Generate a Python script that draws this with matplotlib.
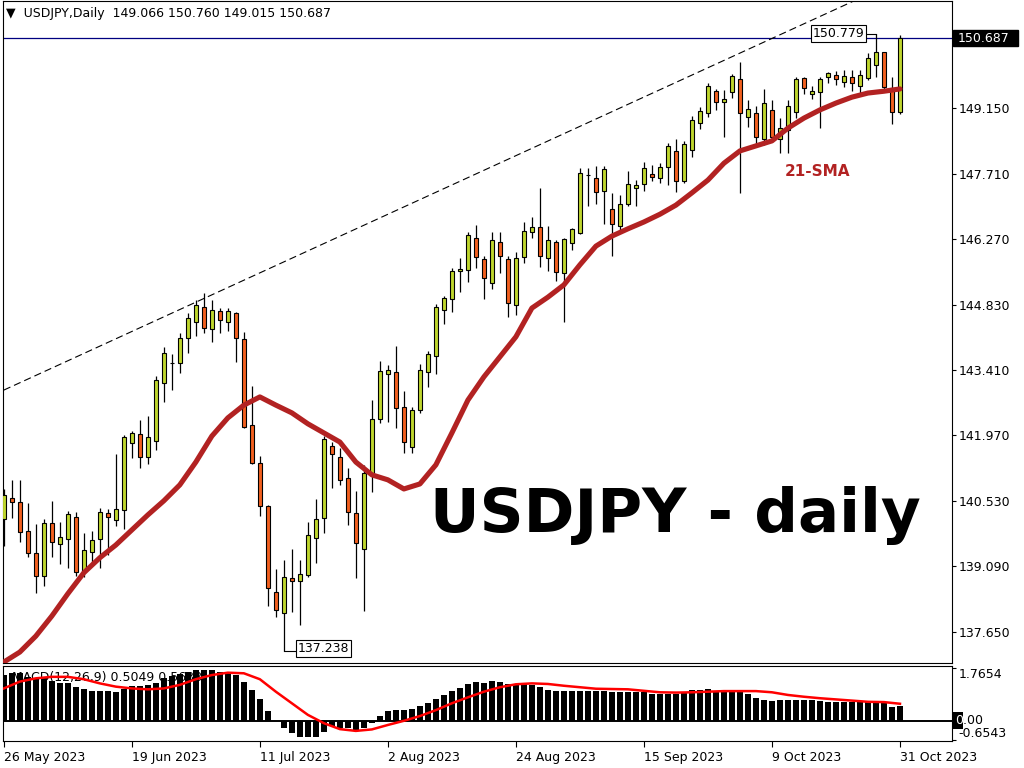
import matplotlib
matplotlib.use("Agg")
import matplotlib.pyplot as plt
import matplotlib.transforms as mtransforms
from matplotlib.patches import Rectangle
import numpy as np

# time axis labels and the bars they sit on
date_labels = ["26 May 2023", "19 Jun 2023", "11 Jul 2023", "2 Aug 2023",
               "24 Aug 2023", "15 Sep 2023", "9 Oct 2023", "31 Oct 2023"]
date_label_bars = [0, 16, 32, 48, 64, 80, 96, 112]

# daily candles
opens = [140.13, 140.59, 140.51, 139.87, 139.39, 138.88, 140.04, 139.58, 139.69, 140.17,
         138.97, 139.41, 139.69, 140.26, 140.11, 140.33, 141.80, 142.00, 141.49, 141.84,
         143.12, 143.55, 143.55, 144.10, 144.45, 144.78, 144.30, 144.70, 144.45, 144.65,
         144.08, 142.19, 141.36, 140.42, 138.53, 138.07, 138.84, 138.77, 138.90, 139.71,
         140.15, 141.73, 141.49, 141.03, 140.26, 139.47, 141.14, 142.33, 143.31, 143.36,
         142.59, 141.71, 142.52, 143.36, 143.71, 144.72, 144.96, 145.57, 145.59, 146.30,
         145.84, 145.31, 146.21, 145.84, 144.83, 145.88, 146.43, 146.54, 145.86, 146.21,
         145.53, 146.19, 146.41, 147.68, 147.61, 147.33, 146.93, 146.56, 147.04, 147.39,
         147.48, 147.70, 147.61, 147.86, 148.21, 147.55, 148.23, 148.82, 149.04, 149.52,
         149.28, 149.50, 149.79, 148.95, 149.04, 148.47, 149.11, 148.47, 148.67, 149.06,
         149.81, 149.46, 149.50, 149.83, 149.87, 149.72, 149.83, 149.63, 149.81, 150.09,
         150.38, 149.59, 149.066]
highs = [140.79, 140.99, 140.99, 140.48, 140.02, 140.13, 140.53, 140.07, 140.31, 140.28,
         139.82, 139.87, 140.37, 140.35, 141.56, 141.97, 142.06, 142.30, 142.39, 143.27,
         143.91, 143.75, 144.21, 144.65, 144.94, 145.09, 144.94, 144.76, 144.76, 144.67,
         144.23, 143.05, 141.51, 140.44, 139.03, 139.23, 139.47, 139.23, 140.07, 140.57,
         141.95, 141.82, 141.69, 141.25, 140.75, 141.32, 142.74, 143.60, 143.51, 143.93,
         142.94, 142.59, 143.53, 143.82, 144.85, 145.02, 145.64, 145.86, 146.43, 146.58,
         145.90, 146.43, 146.43, 145.90, 145.99, 146.65, 146.76, 147.40, 146.56, 146.25,
         146.30, 146.52, 147.83, 147.83, 147.88, 147.88, 147.28, 147.24, 147.77, 147.57,
         147.97, 147.90, 147.94, 148.38, 148.47, 148.43, 148.97, 149.17, 149.70, 149.57,
         149.55, 149.90, 150.16, 149.33, 149.19, 149.57, 149.33, 148.93, 149.33, 149.83,
         149.83, 149.63, 149.83, 149.94, 149.96, 149.98, 149.98, 149.98, 150.36, 150.779,
         150.38, 149.83, 150.760]
lows = [139.54, 140.15, 139.63, 139.30, 138.51, 138.66, 139.30, 139.14, 139.06, 138.88,
        138.86, 139.17, 139.06, 139.34, 139.98, 139.91, 141.47, 141.25, 141.34, 141.65,
        142.70, 142.96, 143.33, 143.77, 144.15, 144.21, 144.02, 144.21, 144.26, 143.58,
        142.13, 141.34, 140.20, 138.22, 137.98, 137.238, 138.09, 137.80, 138.86, 139.17,
        139.82, 140.81, 140.88, 140.00, 138.84, 138.11, 140.72, 142.24, 142.26, 142.13,
        141.58, 141.58, 142.46, 143.03, 143.31, 144.41, 144.67, 145.11, 145.33, 145.64,
        144.96, 145.18, 145.53, 144.56, 144.61, 145.75, 146.30, 145.66, 145.57, 145.35,
        144.45, 146.03, 146.39, 147.00, 147.04, 146.60, 145.90, 146.43, 147.00, 147.00,
        147.33, 147.55, 147.50, 147.46, 147.31, 147.50, 148.07, 148.69, 148.95, 149.11,
        148.51, 149.37, 147.28, 148.73, 148.34, 148.34, 148.43, 148.16, 148.16, 148.93,
        149.46, 149.35, 148.71, 149.70, 149.65, 149.61, 149.52, 149.46, 149.76, 149.83,
        149.55, 148.80, 149.015]
closes = [140.66, 140.51, 139.85, 139.39, 138.88, 140.04, 139.63, 139.74, 140.24, 138.97,
          139.45, 139.67, 140.28, 140.17, 140.35, 141.93, 142.02, 141.49, 141.93, 143.18,
          143.77, 143.55, 144.10, 144.54, 144.83, 144.32, 144.72, 144.50, 144.70, 144.10,
          142.15, 141.36, 140.42, 138.62, 138.13, 138.86, 138.77, 138.92, 139.78, 140.13,
          141.89, 141.56, 140.99, 140.28, 139.60, 141.14, 142.33, 143.38, 143.40, 142.57,
          141.82, 142.52, 143.40, 143.75, 144.78, 144.98, 145.57, 145.62, 146.36, 145.88,
          145.42, 146.25, 145.90, 144.87, 145.86, 146.45, 146.54, 145.90, 146.25, 145.55,
          146.27, 146.50, 147.72, 147.68, 147.31, 147.81, 146.60, 147.04, 147.48, 147.46,
          147.83, 147.64, 147.86, 148.32, 147.55, 148.36, 148.89, 149.08, 149.63, 149.28,
          149.35, 149.85, 149.04, 149.13, 148.51, 149.26, 148.51, 148.71, 149.19, 149.79,
          149.59, 149.52, 149.79, 149.92, 149.79, 149.85, 149.70, 149.87, 150.25, 150.38,
          149.61, 149.06, 150.687]

# 21-SMA read every second bar
sma_bars = list(range(0, 113, 2))
sma_values = [136.99, 137.21, 137.56, 138.00, 138.49, 138.95, 139.28, 139.56, 139.89, 140.22,
              140.53, 140.88, 141.38, 141.95, 142.35, 142.63, 142.81, 142.63, 142.46, 142.22,
              142.02, 141.82, 141.38, 141.10, 140.99, 140.79, 140.90, 141.32, 142.02, 142.74,
              143.25, 143.69, 144.13, 144.76, 145.00, 145.27, 145.71, 146.12, 146.34, 146.50,
              146.65, 146.82, 147.02, 147.29, 147.57, 147.94, 148.21, 148.32, 148.43, 148.71,
              148.93, 149.11, 149.26, 149.39, 149.48, 149.52, 149.57]

# trend line through the highs (two points)
trend_bars = [0, 100]
trend_prices = [142.96, 151.00]

# MACD histogram (one per bar) and signal line (every second bar)
macd_hist = [1.53, 1.61, 1.60, 1.46, 1.43, 1.43, 1.33, 1.26, 1.26, 1.13,
             1.06, 0.99, 0.99, 0.99, 0.96, 1.06, 1.16, 1.16, 1.20, 1.26,
             1.43, 1.50, 1.57, 1.63, 1.70, 1.70, 1.70, 1.63, 1.60, 1.53,
             1.30, 1.03, 0.72, 0.32, -0.02, -0.25, -0.42, -0.56, -0.56, -0.56,
             -0.39, -0.19, -0.25, -0.25, -0.35, -0.25, -0.08, 0.15, 0.32, 0.35,
             0.35, 0.39, 0.49, 0.59, 0.72, 0.86, 0.99, 1.09, 1.23, 1.30,
             1.26, 1.33, 1.30, 1.23, 1.23, 1.26, 1.20, 1.13, 1.03, 0.99,
             0.99, 0.99, 0.99, 0.99, 0.99, 0.99, 0.96, 0.96, 0.96, 0.96,
             0.96, 0.89, 0.89, 0.89, 0.89, 0.96, 1.03, 1.03, 1.06, 0.99,
             0.96, 0.96, 0.96, 0.89, 0.76, 0.69, 0.66, 0.69, 0.69, 0.69,
             0.69, 0.69, 0.66, 0.62, 0.62, 0.62, 0.62, 0.62, 0.62, 0.62,
             0.62, 0.45, 0.5049]
signal_bars = list(range(0, 113, 2))
signal_values = [1.08, 1.31, 1.42, 1.47, 1.47, 1.39, 1.25, 1.14, 1.08, 1.05,
                 1.08, 1.20, 1.39, 1.53, 1.61, 1.59, 1.39, 0.97, 0.58, 0.19,
                 -0.09, -0.29, -0.35, -0.30, -0.15, -0.01, 0.15, 0.35, 0.58, 0.78,
                 0.97, 1.12, 1.22, 1.25, 1.23, 1.17, 1.12, 1.07, 1.06, 1.05,
                 1.00, 0.95, 0.94, 0.95, 0.97, 0.99, 0.99, 0.99, 0.95, 0.86,
                 0.80, 0.75, 0.71, 0.67, 0.63, 0.62, 0.5638]

# right axis labels
price_ticks = [137.65, 139.09, 140.53, 141.97, 143.41, 144.83, 146.27, 147.71, 149.15, 150.59]
price_tick_labels = ["137.650", "139.090", "140.530", "141.970", "143.410",
                     "144.830", "146.270", "147.710", "149.150", "150.590"]
macd_ticks = [1.7654, 0.0, -0.6543]
macd_tick_labels = ["1.7654", "", "-0.6543"]
macd_zero_label = "0.00"

bull_color = "#BFD62E"
bear_color = "#F2601F"
sma_color = "#B22222"

W, H = 1024, 768


# axes rectangle from pixel edges
def px_rect(left, top, right, bottom):
    return [left / W, 1 - bottom / H, (right - left) / W, (bottom - top) / H]


fig = plt.figure(figsize=(W / 100, H / 100), dpi=100)
ax = fig.add_axes(px_rect(3, 1, 952, 663))
ax2 = fig.add_axes(px_rect(3, 666, 952, 741))

x = np.arange(len(opens))
o = np.array(opens)
h = np.array(highs)
l = np.array(lows)
c = np.array(closes)

# candles
ax.vlines(x, l, h, color="black", lw=0.9, zorder=2)
body_colors = [bull_color if cc > oo else (bear_color if cc < oo else "black") for oo, cc in zip(o, c)]
ax.bar(x, np.abs(c - o), bottom=np.minimum(o, c), width=0.56, color=body_colors,
       edgecolor="black", linewidth=0.8, zorder=3)

# 21-SMA
ax.plot(sma_bars, sma_values, color=sma_color, lw=3.7, zorder=4,
        solid_joinstyle="round", solid_capstyle="round")

# trend line, extended as a ray to the right
slope = (trend_prices[1] - trend_prices[0]) / (trend_bars[1] - trend_bars[0])
tx = np.array([trend_bars[0], 119.0])
ax.plot(tx, trend_prices[0] + slope * (tx - trend_bars[0]), color="black", lw=0.8,
        dashes=(6.5, 3.6), zorder=4)

# current price line
ax.axhline(closes[-1], color="#000080", lw=0.9, zorder=1.5)

ax.set_xlim(-0.1, 118.5)
ax.set_ylim(136.97, 151.50)
ax.set_xticks([])
ax.yaxis.tick_right()
ax.set_yticks(price_ticks)
ax.set_yticklabels(price_tick_labels)
ax.tick_params(axis="y", direction="out", length=3, width=0.8, pad=1.5, labelsize=9)
for sp in ax.spines.values():
    sp.set_linewidth(0.8)

# current price box on the right scale
yt = ax.get_yaxis_transform()
ax.add_patch(Rectangle((1.001, closes[-1] - 0.175), 0.0685, 0.35, transform=yt,
                       facecolor="black", edgecolor="black", clip_on=False, zorder=6))
ax.text(1.0055, closes[-1], f"{closes[-1]:.3f}", transform=yt, color="white", fontsize=9,
        ha="left", va="center", zorder=7, clip_on=False)

# high / low labels
i_hi = int(np.argmax(h))
i_lo = int(np.argmin(l))
ax.plot([i_hi - 1.15, i_hi], [h[i_hi], h[i_hi]], color="black", lw=0.8, zorder=4)
ax.text(i_hi - 1.45, h[i_hi], f"{h[i_hi]:.3f}", ha="right", va="center", fontsize=9, zorder=6,
        bbox=dict(boxstyle="square,pad=0.15", fc="white", ec="black", lw=0.8))
ax.plot([i_lo, i_lo + 1.4], [l[i_lo], l[i_lo]], color="black", lw=0.8, zorder=4)
ax.text(i_lo + 1.7, l[i_lo] + 0.05, f"{l[i_lo]:.3f}", ha="left", va="center", fontsize=9,
        zorder=6, bbox=dict(boxstyle="square,pad=0.15", fc="white", ec="black", lw=0.8))

# annotations
ax.text(0.858, 0.7356, "21-SMA", transform=ax.transAxes, color=sma_color, fontsize=11,
        fontweight="bold", ha="center", va="baseline", zorder=6)
ax.text(0.708, 0.198, "USDJPY - daily", transform=ax.transAxes, color="black", fontsize=44,
        fontweight="bold", ha="center", va="baseline", zorder=6)

# header line
fig.text(6 / W, 1 - 13 / H,
         f"\u25bc  USDJPY,Daily  {opens[-1]:.3f} {highs[-1]:.3f} {lows[-1]:.3f} {closes[-1]:.3f}",
         fontsize=9, ha="left", va="center")

# MACD panel
ax2.text(9 / 949, 0.85, f"MACD(12,26,9) {macd_hist[-1]:.4f} {signal_values[-1]:.4f}",
         transform=ax2.transAxes, fontsize=9, ha="left", va="center", zorder=1)
ax2.bar(x, macd_hist, width=0.76, color="black", zorder=2)
ax2.axhline(0, color="black", lw=1.4, zorder=2.5)
ax2.plot(signal_bars, signal_values, color="red", lw=1.8, zorder=3)
ax2.set_xlim(-0.1, 118.5)
ax2.set_ylim(-0.69, 1.835)
ax2.yaxis.tick_right()
ax2.set_yticks(macd_ticks)
ax2.set_yticklabels(macd_tick_labels)
ax2.tick_params(axis="y", direction="out", length=3, width=0.8, pad=1.5, labelsize=9)
labels = ax2.get_yticklabels()
labels[0].set_va("top")
labels[2].set_va("bottom")
ax2.set_xticks(date_label_bars)
ax2.set_xticklabels(date_labels)
ax2.tick_params(axis="x", direction="out", length=4, width=0.8, pad=3, labelsize=9)
for t in ax2.get_xticklabels():
    t.set_ha("left")
for sp in ax2.spines.values():
    sp.set_linewidth(0.8)

# zero label with the little black marker over its first digit
yt2 = ax2.get_yaxis_transform()
zero_tr = mtransforms.offset_copy(yt2, fig=fig, x=3, y=0, units="dots")
ax2.text(1.0, 0, macd_zero_label, transform=zero_tr, fontsize=9, ha="left", va="center",
         zorder=5, clip_on=False)
ax2.add_patch(Rectangle((1.001, -0.29), 0.0105, 0.57, transform=yt2, facecolor="black",
                        clip_on=False, zorder=6))
ax2.text(1.0, 0, macd_zero_label[0], transform=zero_tr, fontsize=9, ha="left", va="center",
         color="white", zorder=7, clip_on=False)

fig.savefig("out.png", dpi=100, facecolor="white")
